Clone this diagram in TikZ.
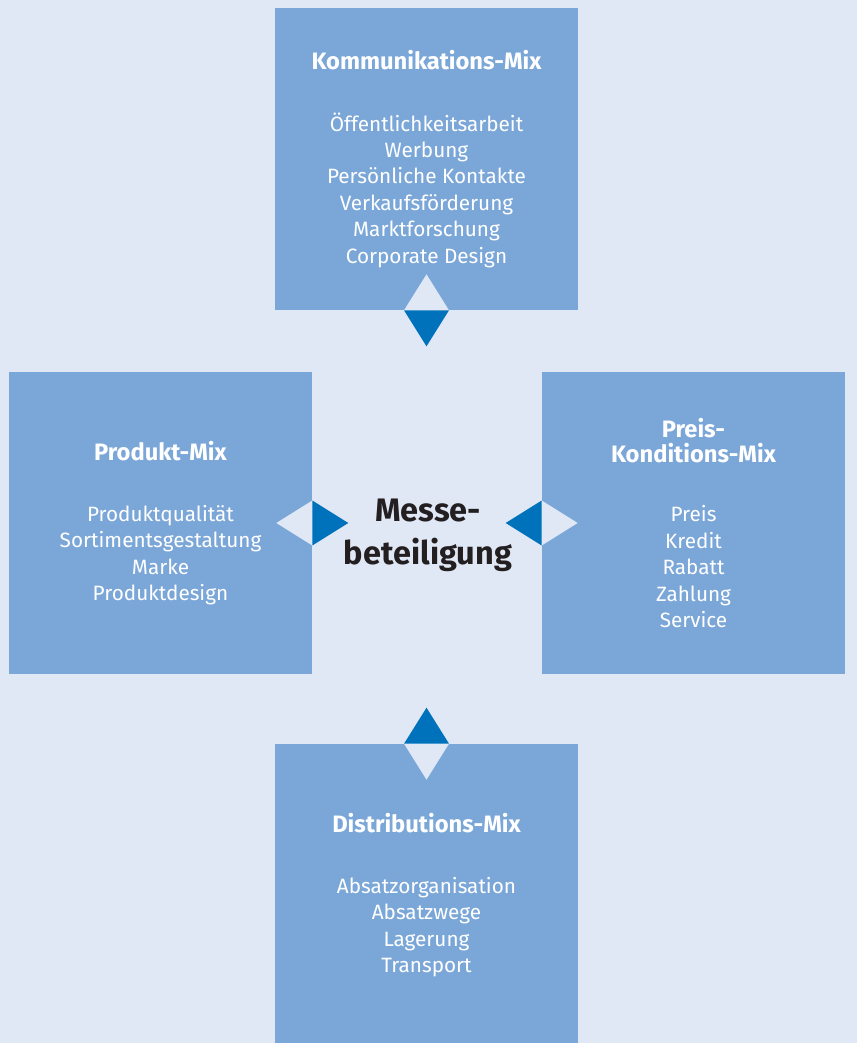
\documentclass[tikz,border=0pt]{standalone}
\usepackage{fontspec}
\setmainfont{Fira Sans}
\usepackage{tikz}

\definecolor{bground}{HTML}{E1E8F5}
\definecolor{boxblue}{HTML}{7BA7D8}
\definecolor{arrowblue}{HTML}{0072BB}
\definecolor{textdark}{HTML}{231F20}

\newcommand{\mixtitle}[1]{{\bfseries\fontsize{13.5}{15}\selectfont #1}}

\begin{document}
\begin{tikzpicture}[x=0.02cm,y=-0.02cm,
mix/.style={rectangle, fill=boxblue, text=white, align=center,
                inner sep=0pt, minimum width=6.06cm, minimum height=6.04cm,
                font=\fontsize{11.8}{15}\selectfont},
light/.style={fill=bground},
dark/.style={fill=arrowblue}]
    \fill[bground] (0,0) rectangle (857,1043);
    \useasboundingbox (0,0) rectangle (857,1043);

    \node[mix] (kom) at (426.5,159)
        {\mixtitle{Kommunikations-Mix}\\[20pt]
         Öffentlichkeitsarbeit\\ Werbung\\ Persönliche Kontakte\\
         Verkaufsförderung\\ Marktforschung\\ Corporate Design};
    \node[mix] (prod) at (160.5,523)
        {\mixtitle{Produkt-Mix}\\[20pt]
         Produktqualität\\ Sortimentsgestaltung\\ Marke\\ Produktdesign};
    \node[mix] (preis) at (693.5,523)
        {\mixtitle{Preis-}\\[-1pt] \mixtitle{Konditions-Mix}\\[19pt]
         Preis\\ Kredit\\ Rabatt\\ Zahlung\\ Service};
    \node[mix] (dist) at (426.5,895)
        {\mixtitle{Distributions-Mix}\\[20pt]
         Absatzorganisation\\ Absatzwege\\ Lagerung\\ Transport};

    \node[align=center, text=textdark, font=\bfseries\fontsize{18.5}{24.5}\selectfont]
        (messe) at (428,535) {Messe-\\ beteiligung};

    % triangles at the box edges
    \fill[light] (kom.south) ++(-22.5,0) -- ++(45,0) -- ++(-22.5,-36) -- cycle;
    \fill[dark] (kom.south) ++(-22.5,0) -- ++(45,0) -- ++(-22.5,36) -- cycle;
    \fill[light] (prod.east) ++(0,-22.5) -- ++(0,45) -- ++(-36,-22.5) -- cycle;
    \fill[dark] (prod.east) ++(0,-22.5) -- ++(0,45) -- ++(36,-22.5) -- cycle;
    \fill[light] (preis.west) ++(0,-22.5) -- ++(0,45) -- ++(36,-22.5) -- cycle;
    \fill[dark] (preis.west) ++(0,-22.5) -- ++(0,45) -- ++(-36,-22.5) -- cycle;
    \fill[light] (dist.north) ++(-22.5,0) -- ++(45,0) -- ++(-22.5,36) -- cycle;
    \fill[dark] (dist.north) ++(-22.5,0) -- ++(45,0) -- ++(-22.5,-36) -- cycle;
\end{tikzpicture}
\end{document}
